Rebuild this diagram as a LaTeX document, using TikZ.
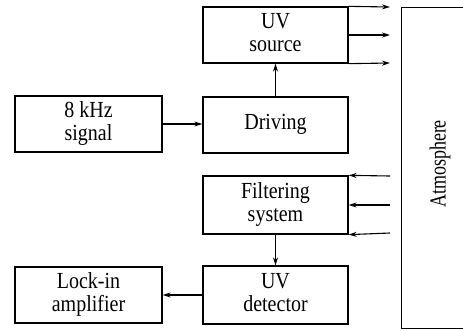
\documentclass[tikz,border=0pt]{standalone}
\usepackage{fontspec}
\setmainfont{Liberation Serif}
\usetikzlibrary{arrows.meta}
\newcommand{\blktext}[1]{\scalebox{1}[1.15]{\begin{tabular}{@{}c@{}}#1\end{tabular}}}
\begin{document}
\begin{tikzpicture}[x=1pt,y=-1pt,
  blk/.style={draw,line width=1.3pt,minimum width=145pt,minimum height=56pt,align=center,inner sep=0pt,font=\fontsize{20}{20}\selectfont},
  arr/.style={line width=1.1pt,-{Stealth[length=8pt,width=5pt]}}]
\useasboundingbox (0,0) rectangle (463,330);
\clip (0,0) rectangle (463,330);
\node[blk] (src) at (275.5,35) {\blktext{UV\\source}};
\node[blk] (drv) at (275.5,125) {\blktext{Driving}};
\node[blk,minimum width=147pt] (sig) at (88.5,124) {\blktext{8 kHz\\signal}};
\node[blk,minimum height=58pt] (flt) at (275.5,205) {\blktext{Filtering\\system}};
\node[blk,minimum height=58pt] (det) at (275.5,295) {\blktext{UV\\detector}};
\node[blk,minimum width=147pt] (lock) at (88.5,295) {\blktext{Lock-in\\amplifier}};
\node[draw,line width=1.3pt,minimum width=80pt,minimum height=321pt,anchor=north west,inner sep=0pt] (atm) at (401,7) {};
\node[rotate=90,font=\fontsize{20}{20}\selectfont] (atmt) at (440,164) {\scalebox{0.9}[1.15]{Atmosphere}};
\coordinate (o1) at (390,7);
\coordinate (o2) at (390,35);
\coordinate (o3) at (390,63);
\coordinate (i1) at (390,176);
\coordinate (i2) at (390,205);
\coordinate (i3) at (390,233);
\draw[arr] (src.north east) -- (o1);
\draw[arr] (src.east) -- (o2);
\draw[arr] (src.south east) -- (o3);
\draw[arr] (i1) -- (flt.north east);
\draw[arr] (i2) -- (flt.east);
\draw[arr] (i3) -- (flt.south east);
\draw[arr] (drv.north) -- (src.south);
\draw[arr] (sig.east) -- (sig.east -| drv.west);
\draw[arr] (flt.south) -- (det.north);
\draw[arr] (det.west) -- (lock.east);
\end{tikzpicture}
\end{document}
